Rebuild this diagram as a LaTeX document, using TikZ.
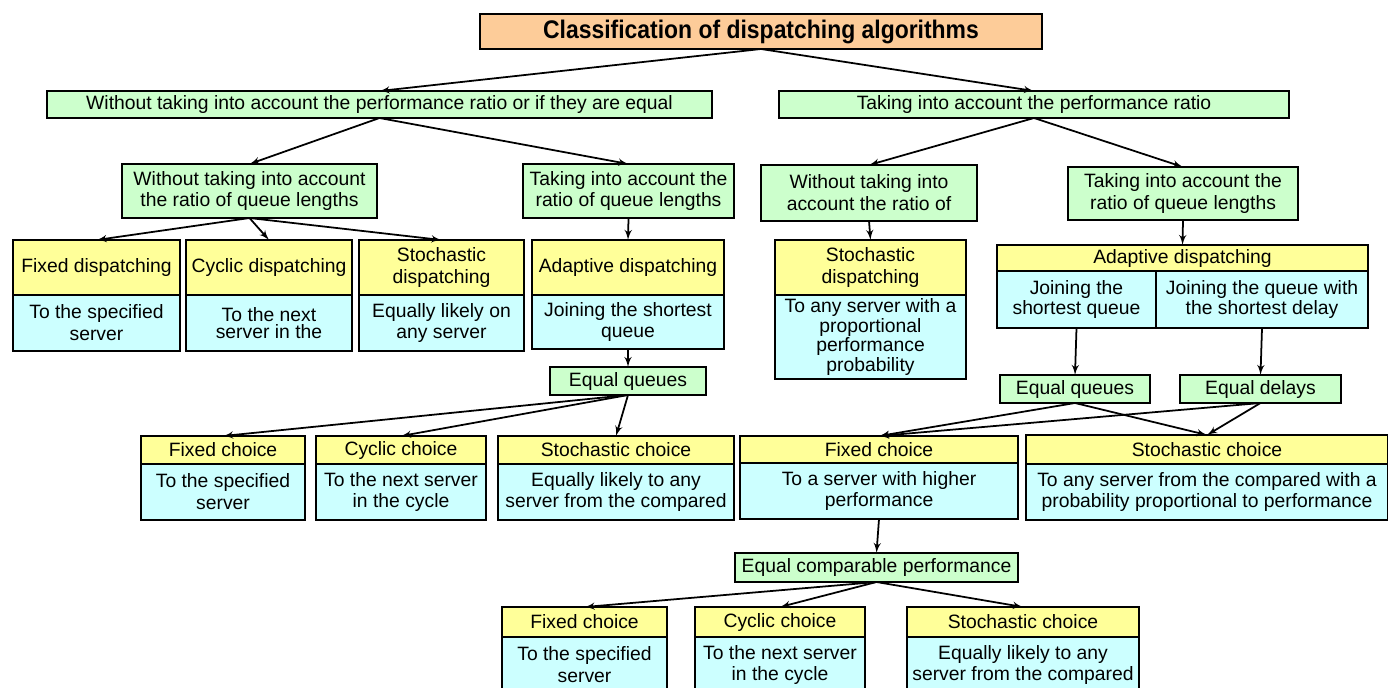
\documentclass[tikz,border=0pt]{standalone}
\usepackage{fontspec}
\setmainfont{Liberation Sans}
\newfontfamily\titlefont[FakeStretch=0.9]{Liberation Sans}
\usepackage{xcolor}
\usepackage{tikz}
\usetikzlibrary{arrows,positioning}

\definecolor{boxorange}{RGB}{253,204,153}
\definecolor{boxgreen}{RGB}{204,255,204}
\definecolor{boxyellow}{RGB}{255,255,153}
\definecolor{boxcyan}{RGB}{204,255,255}

\begin{document}
\begin{tikzpicture}[x=0.02cm, y=-0.02cm,
      box/.style={rectangle, draw, line width=0.9pt, outer sep=0pt, inner sep=1pt, align=center, font=\fontsize{11}{12.5}\selectfont},
      wh/.style 2 args={minimum width=#1*0.02cm, minimum height=#2*0.02cm},
      title/.style={box, fill=boxorange, font=\titlefont\fontsize{14.5}{16}\selectfont\bfseries},
      group/.style={box, fill=boxgreen},
      head/.style={box, fill=boxyellow},
      body/.style={box, fill=boxcyan},
      tight/.style={font=\fontsize{11}{9.8}\selectfont},
      line/.style={draw, -latex', line width=1pt}]

      \useasboundingbox (0,0) rectangle (1388,687);

      % Nodes
      \node [title, wh={562}{35}] (root) at (761,31.5) {Classification of dispatching algorithms};
      \node [group, wh={665}{27}] (noPerf) at (379.5,104.5) {Without taking into account the performance ratio or if they are equal};
      \node [group, wh={510}{27}] (perf) at (1034,104.5) {Taking into account the performance ratio};

      \node [group, wh={255}{54}] (noPerfNoQ) at (249.5,191) {Without taking into account\\the ratio of queue lengths};
      \node [group, wh={211}{54}] (noPerfQ) at (628.5,191) {Taking into account the\\ratio of queue lengths};
      \node [group, wh={216}{56}] (perfNoQ) at (869,193) {Without taking into\\account the ratio of};
      \node [group, wh={230}{53}] (perfQ) at (1183,193.5) {Taking into account the\\ratio of queue lengths};

      % Dispatching boxes
      \node [head, wh={167}{55}] (fixD) at (96.5,267.5) {Fixed dispatching};
      \node [body, wh={167}{56}, below=0pt of fixD] (fixDb) {To the specified\\server};
      \node [head, wh={166}{55}] (cycD) at (269,267.5) {Cyclic dispatching};
      \node [body, tight, wh={166}{56}, below=0pt of cycD] (cycDb) {To the next\\server in the};
      \node [head, wh={165}{55}] (stoD) at (441.5,267.5) {Stochastic\\dispatching};
      \node [body, wh={165}{56}, below=0pt of stoD] (stoDb) {Equally likely on\\any server};
      \node [head, wh={192}{55}] (adaD) at (628,267.5) {Adaptive dispatching};
      \node [body, wh={192}{54}, below=0pt of adaD] (adaDb) {Joining the shortest\\queue};
      \node [head, wh={191}{55}] (stoDr) at (870.5,267.5) {Stochastic\\dispatching};
      \node [body, tight, wh={191}{84}, below=0pt of stoDr] (stoDrb) {To any server with a\\proportional\\performance\\probability};
      \node [head, wh={371}{26}] (adaW) at (1182.5,258) {Adaptive dispatching};
      \node [body, tight, wh={159}{57}, below right=0pt and 0pt of adaW.south west] (adaWl) {Joining the\\shortest queue};
      \node [body, tight, wh={212}{57}, right=0pt of adaWl] (adaWr) {Joining the queue with\\the shortest delay};

      % Equality cases
      \node [group, wh={156}{28}] (eqQl) at (628,381) {Equal queues};
      \node [group, wh={150}{28}] (eqQr) at (1075,389) {Equal queues};
      \node [group, wh={161}{28}] (eqDr) at (1260.5,389) {Equal delays};

      % Choice boxes
      \node [head, wh={164}{28}] (fixCl) at (223,450) {Fixed choice};
      \node [body, wh={164}{56}, below=0pt of fixCl] (fixClb) {To the specified\\server};
      \node [head, wh={170}{28}] (cycCl) at (401,450) {Cyclic choice};
      \node [body, wh={170}{56}, below=0pt of cycCl] (cycClb) {To the next server\\in the cycle};
      \node [head, wh={236}{28}] (stoCl) at (616,450) {Stochastic choice};
      \node [body, wh={236}{56}, below=0pt of stoCl] (stoClb) {Equally likely to any\\server from the compared};
      \node [head, wh={278}{27}] (fixCr) at (879,449.5) {Fixed choice};
      \node [body, wh={278}{56}, below=0pt of fixCr] (fixCrb) {To a server with higher\\performance};
      \node [head, wh={362}{29}] (stoCr) at (1207,449.5) {Stochastic choice};
      \node [body, wh={362}{56}, below=0pt of stoCr] (stoCrb) {To any server from the compared with a\\probability proportional to performance};

      \node [group, wh={283}{29}] (eqP) at (876.5,567.5) {Equal comparable performance};

      \node [head, wh={165}{30}] (fixCp) at (584.5,622) {Fixed choice};
      \node [body, wh={165}{56}, below=0pt of fixCp] (fixCpb) {To the specified\\server};
      \node [head, wh={170}{30}] (cycCp) at (780,622) {Cyclic choice};
      \node [body, wh={170}{56}, below=0pt of cycCp] (cycCpb) {To the next server\\in the cycle};
      \node [head, wh={232}{30}] (stoCp) at (1023,622) {Stochastic choice};
      \node [body, wh={232}{56}, below=0pt of stoCp] (stoCpb) {Equally likely to any\\server from the compared};

      % Edges
      \path [line] (root.south) -- (noPerf.north);
      \path [line] (root.south) -- (perf.north);
      \path [line] (noPerf.south) -- (noPerfNoQ.north);
      \path [line] (noPerf.south) -- (noPerfQ.north);
      \path [line] (perf.south) -- (perfNoQ.north);
      \path [line] (perf.south) -- (perfQ.north);
      \path [line] (noPerfNoQ.south) -- (fixD.north);
      \path [line] (noPerfNoQ.south) -- (cycD.north);
      \path [line] (noPerfNoQ.south) -- (stoD.north);
      \path [line] (noPerfQ.south) -- (adaD.north);
      \path [line] (perfNoQ.south) -- (stoDr.north);
      \path [line] (perfQ.south) -- (adaW.north);
      \path [line] (adaDb.south) -- (eqQl.north);
      \path [line] (adaWl.south) -- (eqQr.north);
      \path [line] (adaWr.south) -- (eqDr.north);
      \path [line] (eqQl.south) -- (fixCl.north);
      \path [line] (eqQl.south) -- (cycCl.north);
      \path [line] (eqQl.south) -- (stoCl.north);
      \path [line] (eqQr.south) -- (fixCr.north);
      \path [line] (eqQr.south) -- (stoCr.north);
      \path [line] (eqDr.south) -- (fixCr.north);
      \path [line] (eqDr.south) -- (stoCr.north);
      \path [line] (fixCrb.south) -- (eqP.north);
      \path [line] (eqP.south) -- (fixCp.north);
      \path [line] (eqP.south) -- (cycCp.north);
      \path [line] (eqP.south) -- (stoCp.north);

    \end{tikzpicture}
\end{document}
